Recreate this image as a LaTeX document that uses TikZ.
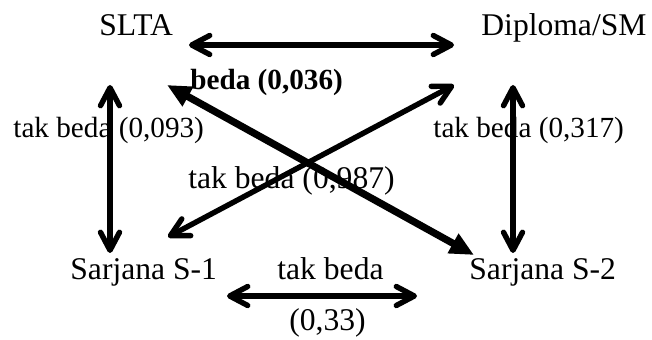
\documentclass[tikz,border=0pt]{standalone}
\usepackage{fontspec}
\setmainfont{Liberation Serif}
\usetikzlibrary{arrows.meta}
\tikzset{
  lbl/.style={anchor=base west, inner sep=0pt, font=\fontsize{15.8}{18}\selectfont},
  smlbl/.style={anchor=base west, inner sep=0pt, font=\fontsize{14.6}{18}\selectfont},
  boldlbl/.style={anchor=base west, inner sep=0pt, font=\fontsize{14.6}{18}\selectfont\bfseries},
  barb/.style={line width=2.7pt, {Straight Barb[length=9pt,width=9.5pt,round]}-{Straight Barb[length=9pt,width=9.5pt,round]}},
  thickarr/.style={line width=3.6pt, {Triangle[length=12pt,width=10.5pt]}-{Triangle[length=12pt,width=10.5pt]}}
}
\begin{document}
\begin{tikzpicture}[x=0.5pt,y=-0.5pt]
\useasboundingbox (0,0) rectangle (652,340);
% main nodes
\node[lbl] (slta) at (99,36) {SLTA};
\node[lbl] (dip) at (481,36) {Diploma/SM};
\node[lbl] (s1) at (70,280) {Sarjana S-1};
\node[lbl] (s2) at (469,280) {Sarjana S-2};
% labels
\node[smlbl] (l093) at (13,138) {tak beda (0,093)};
\node[smlbl] (l317) at (433,138) {tak beda (0,317)};
\node[boldlbl] (l036) at (190,90) {beda (0,036)};
\node[lbl] (l987) at (188,189) {tak beda (0,987)};
\node[lbl] (l33a) at (277,280) {tak beda};
\node[lbl] (l33b) at (289,331) {(0,33)};
% arrow end points
\coordinate (sltaR) at (189,45);
\coordinate (dipL) at (454,45);
\coordinate (sltaB) at (110,85);
\coordinate (s1T) at (110,253);
\coordinate (dipB) at (513,85);
\coordinate (s2T) at (513,253);
\coordinate (sltaD) at (167,85);
\coordinate (s2D) at (474,255);
\coordinate (s1D) at (168,237);
\coordinate (dipD) at (454,85);
\coordinate (s1R) at (227,296);
\coordinate (s2L) at (417,296);
% connectors
\draw[barb] (sltaR) -- (dipL);
\draw[barb] (sltaB) -- (s1T);
\draw[barb] (dipB) -- (s2T);
\draw[barb] (s1D) -- (dipD);
\draw[thickarr] (sltaD) -- (s2D);
\draw[barb] (s1R) -- (s2L);
\end{tikzpicture}
\end{document}
